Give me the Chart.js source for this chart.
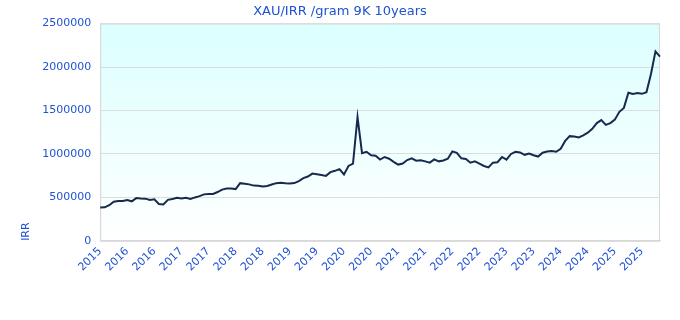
<!DOCTYPE html>
<html>
<head>
<meta charset="utf-8">
<script src="https://cdn.jsdelivr.net/npm/chart.js@4/dist/chart.umd.min.js"></script>
<style>
html,body{margin:0;padding:0;background:#ffffff;}
#wrap{width:680px;height:320px;position:relative;}
</style>
</head>
<body>
<div id="wrap"><canvas id="c"></canvas></div>
<script>
const titleText = 'XAU/IRR /gram 9K 10years';
const yAxisTitle = 'IRR';
const tickLabels = ['2015','2016','2016','2017','2017','2018','2018','2019','2019','2020','2020',
                    '2021','2021','2022','2022','2023','2023','2024','2024','2025','2025'];
const pointsPerTick = 6;
const yTicks = [0, 500000, 1000000, 1500000, 2000000, 2500000];
// price in thousands of IRR
const values = [
  384, 386, 410, 450, 460, 458, 470, 455, 492, 488,
  486, 470, 478, 425, 418, 472, 482, 495, 488, 497,
  482, 500, 515, 535, 538, 540, 562, 590, 603, 603,
  596, 664, 658, 650, 636, 634, 626, 632, 648, 664,
  668, 662, 660, 665, 688, 722, 740, 774, 766, 758,
  748, 791, 806, 826, 765, 862, 890, 1425, 1010, 1025,
  985, 980, 935, 965, 945, 910, 878, 890, 930, 950,
  922, 928, 915, 900, 938, 915, 925, 945, 1030, 1012,
  950, 942, 900, 915, 890, 862, 845, 900, 905, 965,
  935, 1000, 1025, 1017, 990, 1005, 985, 970, 1015, 1028,
  1035, 1025, 1060, 1150, 1205, 1200, 1190, 1215, 1245, 1290,
  1355, 1390, 1335, 1355, 1395, 1485, 1530, 1705, 1690, 1700,
  1692, 1710, 1920, 2180, 2120
];

const categories = values.map((v, i) => (i % pointsPerTick === 0 ? tickLabels[i / pointsPerTick] : ''));
const seriesData = values.map(v => v * 1000);

const textColor = '#2052d3';
const fontFamily = '"DejaVu Sans", Verdana, sans-serif';

const bgPlugin = {
  id: 'plotBg',
  beforeDraw(chart) {
    const a = chart.chartArea;
    if (!a) return;
    const ctx = chart.ctx;
    const g = ctx.createLinearGradient(0, a.top, 0, a.bottom);
    g.addColorStop(0, '#dbffff');
    g.addColorStop(1, '#ffffff');
    ctx.save();
    ctx.fillStyle = g;
    ctx.fillRect(a.left, a.top, a.right - a.left, a.bottom - a.top);
    ctx.strokeStyle = '#d8d8d8';
    ctx.lineWidth = 1;
    ctx.strokeRect(a.left + 0.5, a.top + 0.5, a.right - a.left - 1, a.bottom - a.top);
    ctx.restore();
  }
};

new Chart(document.getElementById('c'), {
  type: 'line',
  data: {
    labels: categories,
    datasets: [{
      label: titleText,
      data: seriesData,
      borderColor: '#17294d',
      borderWidth: 2,
      pointRadius: 0,
      tension: 0,
      fill: false
    }]
  },
  options: {
    responsive: true,
    maintainAspectRatio: false,
    animation: false,
    layout: { padding: { left: 20, right: 20, top: 0, bottom: 42 } },
    plugins: {
      legend: { display: false },
      tooltip: { enabled: false },
      title: {
        display: true,
        text: titleText,
        color: textColor,
        font: { family: fontFamily, size: 13, weight: 'normal' },
        padding: { top: 4, bottom: 4 }
      }
    },
    scales: {
      x: {
        type: 'category',
        offset: false,
        grid: { display: false, drawTicks: false },
        border: { display: true, color: '#d8d8d8' },
        ticks: {
          autoSkip: false,
          minRotation: 45,
          maxRotation: 45,
          padding: 4,
          color: textColor,
          font: { family: fontFamily, size: 11 },
          callback: function (val, idx) {
            const l = this.getLabelForValue(val);
            return l === '' ? null : l;
          }
        }
      },
      y: {
        min: 0,
        max: 2500000,
        afterBuildTicks: (axis) => { axis.ticks = yTicks.map(v => ({ value: v })); },
        grid: { color: '#dddddd', drawTicks: false },
        border: { display: true, color: '#d8d8d8' },
        title: {
          display: true,
          text: yAxisTitle,
          align: 'start',
          color: textColor,
          font: { family: fontFamily, size: 11 },
          padding: { top: 0, bottom: 0 }
        },
        ticks: {
          color: textColor,
          padding: 9,
          font: { family: fontFamily, size: 11 },
          callback: (v) => String(v)
        }
      }
    }
  },
  plugins: [bgPlugin]
});
</script>
</body>
</html>
